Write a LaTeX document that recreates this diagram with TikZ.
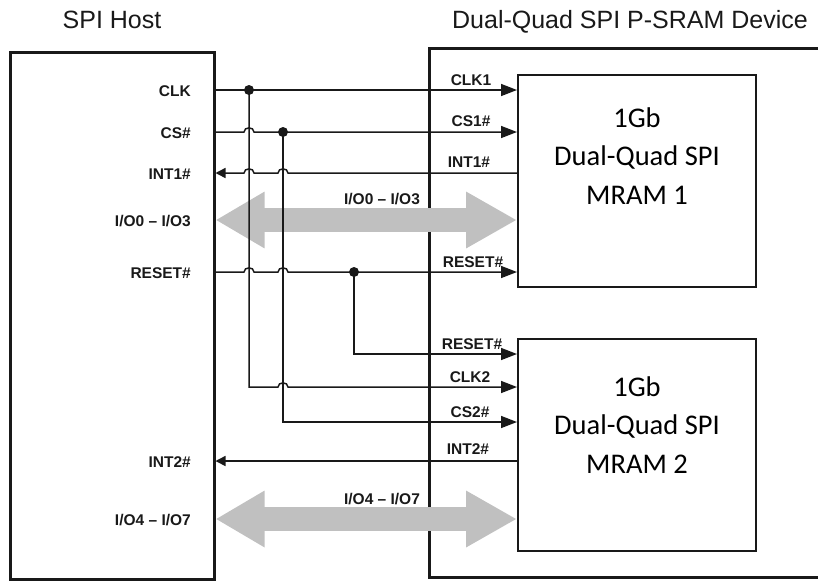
\documentclass[tikz,border=0pt]{standalone}
\usepackage{fontspec}
\setmainfont{Liberation Sans}
\newfontfamily\calfont{Carlito}
\usetikzlibrary{arrows.meta,calc}

\definecolor{busgray}{RGB}{192,192,192}
\definecolor{ink}{RGB}{25,25,25}

% hop of a horizontal wire over a vertical one: rightwards / leftwards
\newcommand\hopr[2]{-- ({#1-5},#2) .. controls ({#1-5},{#2-5.5}) and ({#1+5},{#2-5.5}) .. ({#1+5},#2)}
\newcommand\hopl[2]{-- ({#1+5},#2) .. controls ({#1+5},{#2-5.5}) and ({#1-5},{#2-5.5}) .. ({#1-5},#2)}

\tikzset{
  hostbox/.style={draw=ink, line width=3pt, inner sep=0pt},
  chipbox/.style={draw=ink, line width=2pt, inner sep=0pt, minimum width=238pt, minimum height=212pt},
  chiptext/.style={font=\calfont\fontsize{28.5}{38.5}\selectfont, align=center, inner sep=0pt},
  wire/.style={draw=ink, line width=1.5pt},
  inarrow/.style={-{Triangle[length=16pt,width=12pt]}},
  hostarrow/.style={-{Triangle[length=10pt,width=10pt]}},
  bus/.style={draw=busgray, line width=24pt,
    {Triangle[length=49pt,width=53pt]}-{Triangle[length=51pt,width=53pt]}},
  tap/.style={circle, fill=ink, inner sep=0pt, minimum size=10pt},
  pin/.style={font=\bfseries\fontsize{15.5}{17}\selectfont, inner sep=0pt, text=ink},
  title/.style={font=\fontsize{25}{29}\selectfont, inner sep=0pt, text=ink, anchor=base}
}

\begin{document}
\begin{tikzpicture}[x=1pt,y=-1pt]
\useasboundingbox (0,0) rectangle (818,582);

% titles
\node[title] (thost) at (112,28) {SPI Host};
\node[title] (tdev) at (630,28) {Dual-Quad SPI P-SRAM Device};

% host and device outlines
\node[hostbox, minimum width=204pt, minimum height=527pt] (host) at (112,315.5) {};
\node[hostbox, minimum width=401pt, minimum height=529pt] (dev) at (629.5,312.5) {};

% the two memory dies
\node[chipbox] (m1) at (637,181) {};
\node[chipbox] (m2) at (637,444.5) {};
\node[chiptext] (m1t) at (637,156) {1Gb\\Dual-Quad SPI\\MRAM 1};
\node[chiptext] (m2t) at (637,425) {1Gb\\Dual-Quad SPI\\MRAM 2};

% data buses
\draw[bus] (host.east |- 0,220) -- (m1.west |- 0,220);
\draw[bus] (host.east |- 0,519) -- (m2.west |- 0,519);

% tap points
\node[tap] (tclk) at (249,90) {};
\node[tap] (tcs) at (283,132) {};
\node[tap] (trst) at (354,272) {};

% die 1 signals
\draw[wire, inarrow] (host.east |- 0,90) -- (m1.west |- 0,90);
\draw[wire, inarrow] (host.east |- 0,132) \hopr{249}{132} -- (m1.west |- 0,132);
\draw[wire, hostarrow] (m1.west |- 0,173) \hopl{283}{173} \hopl{249}{173} -- (host.east |- 0,173);
\draw[wire, inarrow] (host.east |- 0,272) \hopr{249}{272} \hopr{283}{272} -- (m1.west |- 0,272);

% die 2 signals, branched from the die 1 lines
\draw[wire, inarrow] (trst.center) -- (354,354) -- (m2.west |- 0,354);
\draw[wire, inarrow] (tclk.center) -- (249,387) \hopr{283}{387} -- (m2.west |- 0,387);
\draw[wire, inarrow] (tcs.center) -- (283,422) -- (m2.west |- 0,422);
\draw[wire, hostarrow] (m2.west |- 0,461) -- (host.east |- 0,461);

% host pin names
\node[pin, anchor=base east] (pclk) at (191,96) {CLK};
\node[pin, anchor=base east] (pcs) at (191,138) {CS\#};
\node[pin, anchor=base east] (pint1) at (191,179) {INT1\#};
\node[pin, anchor=base east] (pio1) at (191,226) {I/O0 -- I/O3};
\node[pin, anchor=base east] (prst) at (191,278) {RESET\#};
\node[pin, anchor=base east] (pint2) at (191,467) {INT2\#};
\node[pin, anchor=base east] (pio2) at (191,525) {I/O4 -- I/O7};

% bus names
\node[pin, anchor=base] (bio1) at (382,204) {I/O0 -- I/O3};
\node[pin, anchor=base] (bio2) at (382,504) {I/O4 -- I/O7};

% die pin names
\node[pin, anchor=base] (dclk1) at (471,85.5) {CLK1};
\node[pin, anchor=base] (dcs1) at (471,126) {CS1\#};
\node[pin, anchor=base] (dint1) at (469,167.5) {INT1\#};
\node[pin, anchor=base] (drst1) at (473,267.5) {RESET\#};
\node[pin, anchor=base] (drst2) at (472,349) {RESET\#};
\node[pin, anchor=base] (dclk2) at (470,382.5) {CLK2};
\node[pin, anchor=base] (dcs2) at (470,417.5) {CS2\#};
\node[pin, anchor=base] (dint2) at (468,454) {INT2\#};
\end{tikzpicture}
\end{document}
